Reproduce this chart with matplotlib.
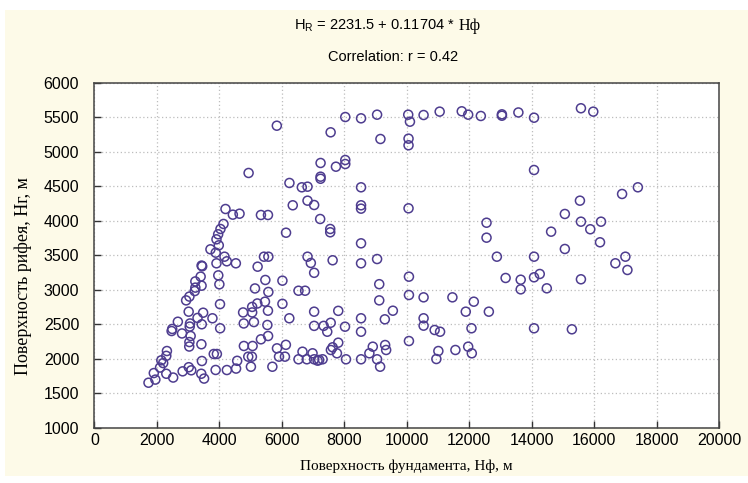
import matplotlib.pyplot as plt
from matplotlib.patches import Rectangle

# foundation surface (x) and reef surface (y)
hf = [1730, 1950, 1900, 2100, 2320, 2300, 2140, 2200, 2300, 2520, 2823, 3020, 3100,
      3440, 3420, 3510, 3880, 4240, 4535, 4570, 3820, 3920, 2490, 2470, 2670, 2803,
      3080, 3040, 3035, 3424, 3060, 3050, 3436, 3300, 3480, 3778, 4025, 3017, 2935,
      3040, 3210, 3230, 3430, 3230, 3400, 3965, 4000, 4020, 3430, 3450, 3907, 4238,
      4528, 4164, 3884, 3714, 3981, 3907, 3961, 4035, 4132, 4196, 4431, 4646, 4760,
      5050, 4780, 5106, 4785, 5064, 4925, 5042, 5010,
      5140, 5472, 5569, 6019, 6019, 5460, 5215, 5050, 5556, 5537, 5560, 5331, 5845,
      6130, 5910, 6100, 5697, 6240, 6534, 6746,
      6534, 6662, 6801, 6984, 7035, 7145, 7196, 7305, 7572, 7627, 7765, 7807, 8055,
      8537, 8804, 8913, 9051, 9148, 9309, 9341,
      7035, 7807, 7035, 7340, 7455, 7565, 8023, 8537, 8537, 9120, 9120, 9556, 9299,
      10071, 10071, 10540, 10540, 10540, 10894, 11068, 10071, 11013, 10949, 11463,
      11559, 11891, 12148, 12630, 12074, 11968, 12084, 13167, 13650, 13650,
      5840, 4936, 6244, 6640, 6823, 6350, 6823, 7035, 5331, 5556, 6135, 5428, 5569,
      5225, 6823, 6929, 7035, 7627, 8537, 9051,
      7241, 7733, 8032, 8032, 7240, 7240, 8537, 8537, 8537, 10058, 7228, 7550, 7550,
      8537, 12556, 12556, 12887,
      7563, 9158, 10058, 10058,
      8032, 8537, 9051, 10048, 10103, 10540, 11055, 11762, 11968, 12373, 13048, 13048,
      13576, 14077, 15579, 15974,
      14077, 17402, 16897, 15547, 15064, 15579, 15878, 16222, 14624, 16190, 15064,
      14077, 16682, 17003, 17068, 14077, 14260, 15579, 14486, 14077, 15289]

hr = [1650, 1695, 1790, 1870, 2110, 2040, 1975, 1935, 1780, 1725, 1815, 1875, 1830,
      1965, 1780, 1710, 1835, 1834, 1855, 1968, 2067, 2067, 2430, 2400, 2535, 2365,
      2328, 2240, 2175, 2208, 2510, 2465, 2498, 2590, 2666, 2585, 2440, 2681, 2845,
      2900, 2980, 3030, 3058, 3120, 3190, 3208, 3078, 2790, 3350, 3340, 3383, 3412,
      3383, 3479, 3537, 3586, 3644, 3731, 3804, 3881, 3954, 4171, 4089, 4103, 2670,
      2670, 2510, 2530, 2183, 2183, 2028, 2028, 1882,
      3018, 3141, 2967, 3131, 2795, 2826, 2800, 2750, 2695, 2488, 2328, 2280, 2149,
      2200, 2028, 2028, 1882, 2585, 2985, 2985,
      1990, 2100, 1990, 2077, 1990, 1970, 1980, 1990, 2125, 2164, 2077, 2231, 1990,
      1990, 2077, 2173, 1990, 1882, 2197, 2125,
      2681, 2693, 2475, 2475, 2390, 2520, 2463, 2585, 2390, 3080, 2845, 2695, 2570,
      3189, 2923, 2889, 2585, 2478, 2415, 2390, 2255, 2110, 1994, 2889,
      2125, 2681, 2826, 2681, 2440, 2173, 2077, 3170, 3145, 3005,
      5380, 4694, 4549, 4486, 4495, 4225, 4292, 4229, 4084, 4084, 3827, 3479, 3479,
      3334, 3479, 3388, 3245, 3427, 3383, 3445,
      4839, 4785, 4882, 4824, 4640, 4610, 4486, 4225, 4176, 4181, 4026, 3881, 3833,
      3673, 3972, 3755, 3479,
      5284, 5187, 5192, 5096,
      5506, 5487, 5540, 5540, 5438, 5535, 5584, 5589, 5540, 5521, 5545, 5525,
      5572, 5496, 5633, 5584,
      4737, 4486, 4389, 4292, 4099, 3987, 3877, 3987, 3842, 3688, 3591,
      3479, 3383, 3479, 3286, 3180, 3228, 3151, 3020, 2440, 2425]

x_ticks = [0, 2000, 4000, 6000, 8000, 10000, 12000, 14000, 16000, 18000, 20000]
y_ticks = [1000, 1500, 2000, 2500, 3000, 3500, 4000, 4500, 5000, 5500, 6000]

plt.rcParams['font.family'] = ['Liberation Sans', 'DejaVu Sans']
plt.rcParams['mathtext.fontset'] = 'custom'
plt.rcParams['mathtext.rm'] = 'Liberation Sans'

fig = plt.figure(figsize=(7.48, 4.83), dpi=100, facecolor='white')
# cream panel behind everything
fig.patches.append(Rectangle((5 / 748, 0.015), 1, 1 - 10 / 483 - 0.015,
                             transform=fig.transFigure, facecolor='#fdfae8',
                             edgecolor='none', zorder=-5))

ax = fig.add_axes([0.1263, 0.1149, 0.8349, 0.7133])
ax.set_facecolor('white')
ax.scatter(hf, hr, s=42, facecolors='none', edgecolors='#4e3d8f', linewidths=1.1, zorder=3)

ax.set_xlim(0, 20000)
ax.set_ylim(1000, 6000)
ax.set_xticks(x_ticks)
ax.set_yticks(y_ticks)
ax.tick_params(direction='in', length=5, width=1, color='#333333', labelsize=11.5)
ax.tick_params(axis='y', pad=11)
ax.tick_params(axis='x', pad=4)
ax.grid(True, linestyle=(0, (1, 2)), color='#bdbdbd', linewidth=0.9)
for s in ax.spines.values():
    s.set_color('#444444')
    s.set_linewidth(1.1)

ax.set_xlabel('Поверхность фундамента, Нф, м', family=['Liberation Serif'], fontsize=11, labelpad=8)
ax.set_ylabel('Поверхность рифея, Нг, м', family=['Liberation Serif'], fontsize=13)
ax.yaxis.set_label_coords(-0.1, 0.44)

# title: formula with serif "Нф" at the end
fig.text(455 / 748, 1 - 26 / 483, r'$\mathregular{H_R}$ = 2231.5 + 0.11704 *',
         ha='right', va='center', fontsize=10.5)
fig.text(459 / 748, 1 - 26 / 483, 'Нф', family=['Liberation Serif'],
         ha='left', va='center', fontsize=11.5)
fig.text(393 / 748, 1 - 57 / 483, 'Correlation: r = 0.42', ha='center', va='center', fontsize=10.5)

fig.savefig('out.png', dpi=100, facecolor=fig.get_facecolor())
